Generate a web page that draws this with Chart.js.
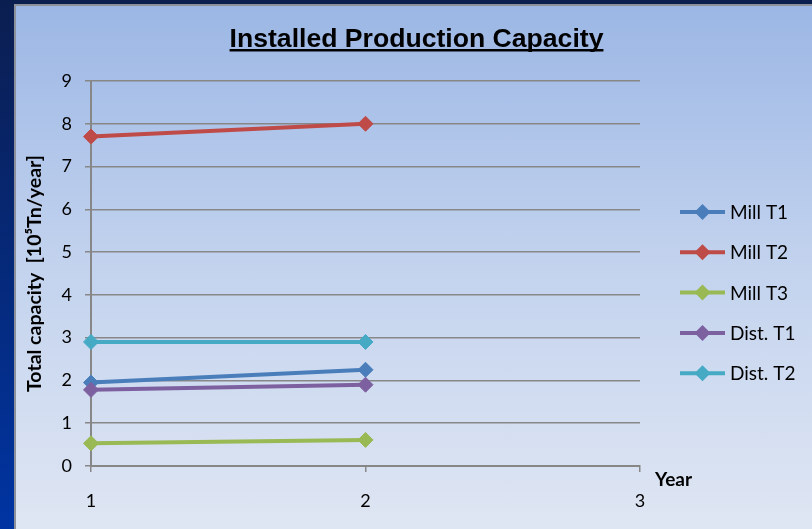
<!DOCTYPE html>
<html>
<head>
<meta charset="utf-8">
<title>Installed Production Capacity</title>
<script src="https://cdn.jsdelivr.net/npm/chart.js@4.4.1/dist/chart.umd.min.js"></script>
<style>
  html, body { margin: 0; padding: 0; }
  #frame {
    position: relative;
    width: 812px;
    height: 529px;
    overflow: hidden;
    background: linear-gradient(to bottom, #0b1e50, #0034a2);
  }
  #panel {
    position: absolute;
    left: 14px;
    top: 4px;
    right: 0;
    bottom: 0;
    border-left: 2px solid #8b909a;
    border-top: 2px solid #8b909a;
    background: linear-gradient(to bottom, #9cb7e5, #c3d3ee 50%, #dfe6f3);
  }
  #chart { position: absolute; left: 0; top: 0; }
</style>
</head>
<body>
<div id="frame">
  <div id="panel"></div>
  <canvas id="chart" width="812" height="529"></canvas>
</div>
<script>
const years = [1, 2];
const millT1 = [1.95, 2.25];
const millT2 = [7.7, 8.0];
const millT3 = [0.53, 0.61];
const distT1 = [1.78, 1.9];
const distT2 = [2.9, 2.9];

const seriesNames = ['Mill T1', 'Mill T2', 'Mill T3', 'Dist. T1', 'Dist. T2'];
const seriesValues = [millT1, millT2, millT3, distT1, distT2];
const seriesColors = ['#4a7ebb', '#be4b48', '#98b954', '#7d60a0', '#46aac5'];

const chartTitle = 'Installed Production Capacity';
const yTitle = 'Total capacity  [10\u2075Tn/year]';
const xTitle = 'Year';

const gridColor = '#878787';
const labelFont = 'Lato';

function diamond(ctx, x, y, r, color) {
  ctx.beginPath();
  ctx.moveTo(x - r, y);
  ctx.lineTo(x, y - r);
  ctx.lineTo(x + r, y);
  ctx.lineTo(x, y + r);
  ctx.closePath();
  ctx.fillStyle = color;
  ctx.fill();
}

// title with underline, the "Year" label and the legend on the right
const decor = {
  id: 'decor',
  afterDraw(chart) {
    const ctx = chart.ctx;
    const area = chart.chartArea;
    ctx.save();

    ctx.font = 'bold 26.6px "Liberation Sans", Arial, sans-serif';
    ctx.fillStyle = '#000';
    ctx.textAlign = 'center';
    ctx.textBaseline = 'alphabetic';
    const cx = 416.5;
    ctx.fillText(chartTitle, cx, 47);
    const w = ctx.measureText(chartTitle).width;
    ctx.fillRect(cx - w / 2, 49, w, 2.5);

    ctx.font = 'bold 19px ' + labelFont;
    ctx.textAlign = 'left';
    ctx.textBaseline = 'middle';
    ctx.fillText(xTitle, area.right + 15, area.bottom + 14);

    ctx.font = '19px ' + labelFont;
    seriesNames.forEach((name, i) => {
      const y = 212 + i * 40.3;
      const x0 = area.right + 40;
      ctx.strokeStyle = seriesColors[i];
      ctx.lineWidth = 4;
      ctx.beginPath();
      ctx.moveTo(x0, y);
      ctx.lineTo(x0 + 45, y);
      ctx.stroke();
      diamond(ctx, x0 + 22.5, y, 8, seriesColors[i]);
      ctx.fillStyle = '#000';
      ctx.fillText(name, x0 + 50, y + 1);
    });
    ctx.restore();
  }
};

const datasets = seriesNames.map((name, i) => ({
  label: name,
  data: years.map((x, j) => ({ x: x, y: seriesValues[i][j] })),
  borderColor: seriesColors[i],
  backgroundColor: seriesColors[i],
  borderWidth: 4,
  pointStyle: 'rectRot',
  pointRadius: 7.5,
  pointBorderWidth: 1,
  pointHoverRadius: 7.5,
  order: seriesNames.length - i,
  clip: false
}));

const ctx = document.getElementById('chart').getContext('2d');
const capacityChart = new Chart(ctx, {
  type: 'line',
  data: { datasets: datasets },
  plugins: [decor],
  options: {
    responsive: false,
    animation: false,
    layout: { padding: { left: 16, top: 81, right: 172, bottom: 0 } },
    plugins: {
      legend: { display: false },
      title: { display: false },
      tooltip: { enabled: false }
    },
    scales: {
      x: {
        type: 'linear',
        min: 1,
        max: 3,
        ticks: {
          stepSize: 1,
          padding: 18,
          color: '#000',
          font: { family: labelFont, size: 18 }
        },
        grid: { drawOnChartArea: false, color: gridColor, lineWidth: 1.5, tickLength: 6 },
        border: { color: gridColor, width: 2 },
        afterFit(scale) { scale.height = 63; }
      },
      y: {
        min: 0,
        max: 9,
        ticks: {
          stepSize: 1,
          padding: 13,
          color: '#000',
          font: { family: labelFont, size: 18 }
        },
        grid: { color: gridColor, lineWidth: 1.5, tickLength: 6 },
        border: { color: gridColor, width: 2 },
        title: {
          display: true,
          text: yTitle,
          color: '#000',
          font: { family: labelFont, size: 19.5, weight: 'bold' },
          padding: { top: 7, bottom: 0 }
        },
        afterFit(scale) { scale.width = 75; }
      }
    }
  }
});
</script>
</body>
</html>
